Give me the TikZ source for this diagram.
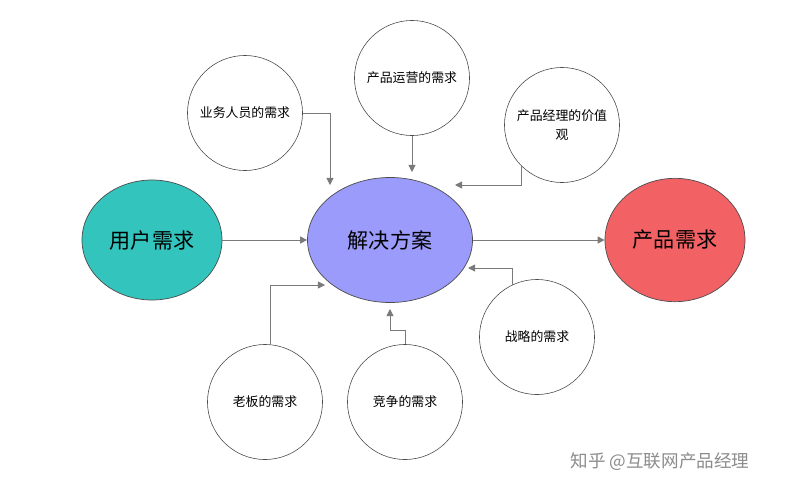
\documentclass[tikz,border=0pt]{standalone}
\usepackage{fontspec}
\setmainfont{Noto Sans CJK SC}
\usetikzlibrary{arrows.meta,shapes.geometric}
\definecolor{teal1}{HTML}{33C5BD}
\definecolor{blue1}{HTML}{9A9BFB}
\definecolor{red1}{HTML}{F26265}
\definecolor{ln}{HTML}{7A7A7A}
\begin{document}
\begin{tikzpicture}[x=0.03cm,y=-0.03cm,
  big/.style={ellipse,draw=black!70,line width=0.6pt,inner sep=0,font=\fontsize{18}{20}\selectfont},
  sm/.style={circle,draw=black!70,line width=0.5pt,minimum size=3.45cm,inner sep=0,align=center,font=\fontsize{11}{16}\selectfont},
  con/.style={draw=ln,line width=0.7pt,-{Triangle[length=6pt,width=6pt]}}]
\useasboundingbox (0,0) rectangle (800,495);
\fill[white] (0,0) rectangle (800,495);
\node[big,fill=teal1,minimum width=4.2cm,minimum height=3.6cm] (u) at (152,240) {用户需求};
\node[big,fill=blue1,minimum width=4.95cm,minimum height=3.75cm] (s) at (390,240) {解决方案};
\node[big,fill=red1,minimum width=4.2cm,minimum height=3.7cm] (p) at (675,240) {产品需求};
\node[sm] (a) at (245,113) {业务人员的需求};
\node[sm] (b) at (412,78) {产品运营的需求};
\node[sm] (c) at (562,125) {产品经理的价值\\观};
\node[sm] (d) at (537,337) {战略的需求};
\node[sm] (e) at (405,402) {竞争的需求};
\node[sm] (f) at (265,402) {老板的需求};
\coordinate (ta) at (330,185);
\coordinate (tb) at (412,172);
\coordinate (tc) at (455,185);
\coordinate (td) at (468,268);
\coordinate (te) at (390,309);
\coordinate (tf) at (325,285);
\coordinate (sc) at (521,166);
\coordinate (sd) at (512,285);
\draw[con] (u.east) -- (s.west);
\draw[con] (s.east) -- (p.west);
\draw[con] (a.east) -| (ta);
\draw[con] (b.south) -- (tb);
\draw[con] (sc) |- (tc);
\draw[con] (sd) |- (td);
\draw[con] (e.north) -- (405,330) -- (390,330) -- (te);
\draw[con] (f.north) ++(5,0) |- (tf);
\node[text=black!45,font=\fontsize{15}{17}\selectfont] (w) at (660,462) {知乎 @互联网产品经理};
\end{tikzpicture}
\end{document}
